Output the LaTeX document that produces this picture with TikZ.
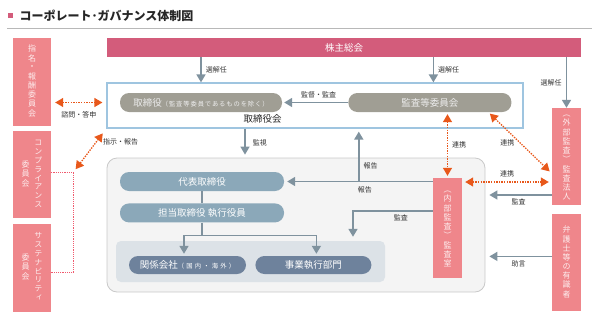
\documentclass[tikz,border=0pt]{standalone}
\usepackage{fontspec}
\setmainfont{Noto Sans CJK JP}
\newfontfamily\vjp{Noto Sans CJK JP}[RawFeature=+vert]
\usetikzlibrary{arrows.meta, positioning, calc}

\definecolor{pinkbar}{HTML}{D35C7B}
\definecolor{pinkbox}{HTML}{EF868B}
\definecolor{pillgray}{HTML}{A09E94}
\definecolor{pillblue}{HTML}{8BA8B9}
\definecolor{pilldark}{HTML}{6E829C}
\definecolor{arrgray}{HTML}{7F929E}
\definecolor{orng}{HTML}{E8581B}
\definecolor{bodline}{HTML}{9FC5E0}
\definecolor{grpfill}{HTML}{DCE2E7}
\definecolor{mgfill}{HTML}{F4F4F4}
\definecolor{mgline}{HTML}{C9C9C9}
\definecolor{brk}{HTML}{F05A6E}
\definecolor{txt}{HTML}{333333}

\newcommand{\vcol}[1]{\begin{tabular}{@{}c@{}}#1\end{tabular}}
\newcommand{\smallpar}[2]{{\fontsize{6.3}{7}\selectfont\addfontfeatures{LetterSpace=#1}#2}}

\begin{document}
\begin{tikzpicture}[x=1pt, y=-1pt,
  every node/.style={font=\fontsize{7}{8}\selectfont, text=txt, inner sep=1pt},
  bar/.style={fill=pinkbar, minimum width=474pt, minimum height=19pt, text=white, font=\fontsize{9.5}{11}\selectfont},
  pill/.style={rounded corners=9pt, minimum height=19pt, inner sep=0pt, text=white, font=\fontsize{9.5}{11}\selectfont},
  pk/.style={fill=pinkbox, minimum width=38pt, inner sep=0pt, text=white!85!pinkbox, font=\vjp\fontsize{8}{8.7}\selectfont},
  pkn/.style={fill=pinkbox, minimum width=29pt, inner sep=0pt, text=white!85!pinkbox, font=\vjp\fontsize{8}{8.6}\selectfont},
  arr/.style={-{Triangle[width=9pt,length=8pt]}, line width=1.6pt, draw=arrgray},
  oarr/.style={{Triangle[width=9pt,length=8pt]}-{Triangle[width=9pt,length=8pt]}, dash pattern=on 1.4pt off 1.2pt, line width=1.3pt, draw=orng},
  brkline/.style={dash pattern=on 1.2pt off 1pt, line width=1.2pt, draw=brk},
]
\useasboundingbox (0,0) rectangle (600,319);

% title
\node[fill=pinkbar, minimum size=5pt, inner sep=0pt] (mark) at (10.5,15.5) {};
\node[anchor=west, font=\bfseries\fontsize{12}{14}\selectfont, text=black!85] (title) at (18.5,15.5) {コーポレート･ガバナンス体制図};
\draw[black!28, line width=0.8pt] (7,28.5) -- (592,28.5);

% board
\node[bar] (sh) at (344,47.5) {株主総会};
\node[draw=bodline, line width=1.2pt, minimum width=416pt, minimum height=45pt] (bod) at (315,105.5) {};
\node[font=\fontsize{9.5}{11}\selectfont, text=black!85] (bodlbl) at (262.5,119) {取締役会};
\node[pill, fill=pillgray, minimum width=162pt, text=white!93!black] (dir) at (201,102.5) {取締役\smallpar{14}{（監査等委員であるものを除く）}};
\node[pill, fill=pillgray, minimum width=163pt, text=white!93!black, right=66pt of dir] (ac) {監査等委員会};

% committees
\node[pk, minimum height=88pt] (nr) at (32,82) {\vcol{指\\名\\・\\報\\酬\\委\\員\\会}};
\node[pk, minimum height=87pt, below=5pt of nr] (cp) {\begin{tabular}{@{}c@{\hspace{5pt}}c@{}}\vcol{委\\員\\会} & \vcol{コ\\ン\\プ\\ラ\\イ\\ア\\ン\\ス}\end{tabular}};
\node[pk, minimum height=88pt, below=5pt of cp] (su) {\begin{tabular}{@{}c@{\hspace{5pt}}c@{}}\vcol{委\\員\\会} & \vcol{サ\\ス\\テ\\ナ\\ビ\\リ\\テ\\ィ}\end{tabular}};

% execution
\node[draw=mgline, fill=mgfill, rounded corners=10pt, minimum width=378pt, minimum height=134pt, line width=0.8pt] (mg) at (296,225) {};
\node[pill, fill=pillblue, minimum width=164pt] (rep) at (202,181.5) {代表取締役};
\node[pill, fill=pillblue, minimum width=164pt, below=12pt of rep] (exe) {担当取締役 執行役員};
\node[fill=grpfill, rounded corners=5pt, minimum width=269pt, minimum height=41pt] (grp) at (250.5,261.5) {};
\node[pill, fill=pilldark, minimum width=117pt, minimum height=18pt] (aff) at (187.5,265) {関係会社\smallpar{35}{（国内・海外）}};
\node[pill, fill=pilldark, minimum width=116pt, minimum height=18pt, right=9pt of aff] (biz) {事業執行部門};

% audit
\node[pkn, minimum height=100pt] (ia) at (447.5,228) {\vcol{︵\\内\\部\\監\\査\\︶\\監\\査\\室}};
\node[pkn, minimum height=97pt] (ea) at (566.5,156.5) {\vcol{︵\\外\\部\\監\\査\\︶\\監\\査\\法\\人}};
\node[pkn, minimum height=97pt, below=9pt of ea] (lw) {\vcol{弁\\護\\士\\等\\の\\有\\識\\者}};

% connectors
\draw[arr] (sh.south -| dir.north) -- (bod.north -| dir.north) node[midway, right=3pt] {選解任};
\draw[arr] ($(sh.south -| ac.north)+(3.5,0)$) coordinate (s2) -- (s2 |- bod.north) node[midway, right=3pt] {選解任};
\draw[arr] (sh.south -| ea.north) -- (ea.north) node[midway, left=3pt] {選解任};
\draw[arr, shorten >=2pt] (ac.west) -- (dir.east) node[pos=0.45, above=3pt] {監督・監査};
\draw[oarr, shorten <=4pt, shorten >=4pt] (nr.east |- dir.center) -- (bod.west |- dir.center) node[midway, below=7pt] {諮問・答申};

\coordinate (br) at ($(cp.east)+(22,-2.5)$);
\draw[brkline] ($(cp.east)+(0,-2.5)$) -- (br) |- ($(su.east)+(0,5)$);
\draw[oarr, shorten <=4pt, shorten >=6pt] (br) -- (bod.south west) node[pos=0.7, right=5pt] {指示・報告};

\draw[arr, shorten >=3pt] ($(bod.south)+(-70,0)$) coordinate (m1) -- (m1 |- mg.north) node[midway, right=6pt] {監視};
\draw[line width=1.6pt, draw=arrgray] (rep.south) -- (exe.north);
\coordinate (fork) at ($(exe.south)+(0,13)$);
\draw[arr, shorten >=2pt] (exe.south) -- (fork) -| ($(aff.north)+(-3.5,0)$);
\draw[arr, shorten >=2pt] (fork) -| ($(biz.north)+(3,0)$);

\coordinate (rj) at ($(ia.west |- rep.east)+(-74,0)$);
\draw[arr, shorten >=3pt] (ia.west |- rep.east) -- (rep.east);
\draw[arr, shorten >=3pt] (rj) -- (rj |- bod.south) node[pos=0.3, right=3pt] {報告};
\node (rplbl) at ($(rj)+(6,8)$) {報告};
\draw[arr, shorten >=4pt] ($(ia.west)+(0,-17)$) -| ($(grp.north)+(102.5,0)$) node[pos=0.2, below=2pt] {監査};
\draw[arr, shorten >=4pt] ($(ea.west)+(0,38.5)$) coordinate (e1) -- (e1 -| mg.east) node[midway, below=2pt] {監査};
\draw[arr, shorten >=4pt] ($(lw.west)+(0,-6.5)$) coordinate (l1) -- (l1 -| mg.east) node[midway, below=2pt] {助言};

\draw[oarr, shorten <=2pt, shorten >=2pt] (ia.north |- ac.south) -- (ia.north) node[midway, right=3pt] {連携};
\draw[oarr, shorten <=2pt, shorten >=3pt] ($(ac.south)+(58.5,0)$) -- ($(ea.west)+(0,17)$) node[midway, left=4pt] {連携};
\draw[oarr, shorten <=3pt, shorten >=3pt] ($(ia.east)+(0,-46)$) coordinate (c1) -- (c1 -| ea.west) node[midway, above=3pt] {連携};
\end{tikzpicture}
\end{document}
